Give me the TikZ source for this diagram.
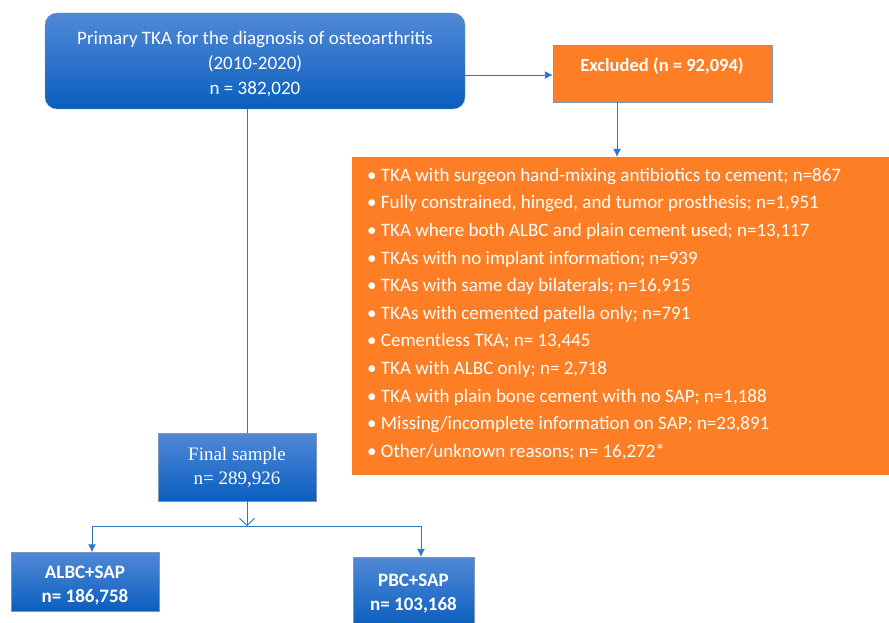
\documentclass[tikz,border=0pt]{standalone}
\usepackage{fontspec}
\setmainfont{Carlito}
\newfontfamily\serifbox{Liberation Serif}
\usetikzlibrary{arrows.meta}
\definecolor{boxtop}{HTML}{5089D6}
\definecolor{boxbot}{HTML}{0A5EBF}
\definecolor{linkblue}{HTML}{2C74CC}
\definecolor{exclorange}{HTML}{FD7E24}
\definecolor{edgegray}{HTML}{7F98B8}
\begin{document}
\begin{tikzpicture}[
      x=1pt, y=-1pt,
      every node/.style={inner sep=0pt, text=white},
      bluebox/.style={draw=edgegray, top color=boxtop, bottom color=boxbot, align=center},
      orangebox/.style={draw=edgegray, fill=exclorange},
      conn/.style={draw=linkblue, line width=0.9pt, -{Latex[length=8pt, width=8pt]}},
      plain/.style={draw=linkblue, line width=0.9pt}
    ]
      \useasboundingbox (0,0) rectangle (889,623);
      % boxes
      \node[bluebox, rounded corners=12pt, minimum width=420pt, minimum height=96pt,
            font=\fontsize{19}{25}\selectfont] (prim) at (255,61) {};
      \node[align=center, font=\fontsize{19}{25}\selectfont] (primText) at (255,64)
            {Primary TKA for the diagnosis of osteoarthritis\\(2010-2020)\\n = 382,020};
      \node[orangebox, minimum width=219pt, minimum height=57pt] (excl) at (662.5,73.5) {};
      \node[font=\bfseries\fontsize{18.5}{22}\selectfont] (exclText) at (662,66) {Excluded (n = 92,094)};
      \node[fill=exclorange, minimum width=537pt, minimum height=318pt] (reasons) at (620.5,316) {};
      \node[anchor=north west, align=left, font=\fontsize{19}{27.6}\selectfont] (reasonList) at (367,168)
            {\textbullet\ TKA with surgeon hand-mixing antibiotics to cement; n=867\\
             \textbullet\ Fully constrained, hinged, and tumor prosthesis; n=1,951\\
             \textbullet\ TKA where both ALBC and plain cement used; n=13,117\\
             \textbullet\ TKAs with no implant information; n=939\\
             \textbullet\ TKAs with same day bilaterals; n=16,915\\
             \textbullet\ TKAs with cemented patella only; n=791\\
             \textbullet\ Cementless TKA; n= 13,445\\
             \textbullet\ TKA with ALBC only; n= 2,718\\
             \textbullet\ TKA with plain bone cement with no SAP; n=1,188\\
             \textbullet\ Missing/incomplete information on SAP; n=23,891\\
             \textbullet\ Other/unknown reasons; n= 16,272*};
      \node[bluebox, minimum width=158pt, minimum height=68pt,
            font=\serifbox\fontsize{19}{24}\selectfont] (final) at (237,467) {Final sample\\n= 289,926};
      \node[bluebox, minimum width=148pt, minimum height=59pt,
            font=\bfseries\fontsize{19}{24}\selectfont] (albc) at (85,582) {};
      \node[align=center, font=\bfseries\fontsize{19}{24}\selectfont] (albcText) at (85,586) {ALBC+SAP\\n= 186,758};
      \node[bluebox, minimum width=121pt, minimum height=70pt,
            font=\bfseries\fontsize{19}{24}\selectfont] (pbc) at (413.5,592) {};
      \node[align=center, font=\bfseries\fontsize{19}{24}\selectfont] (pbcText) at (413.5,594) {PBC+SAP\\n= 103,168};
      \coordinate (split) at (247,526);
      % connectors
      \draw[conn] (prim.east |- 0,75) -- (excl.west |- 0,75);
      \draw[conn] ([xshift=-45.5pt]excl.south) -- ([xshift=-45.5pt]excl.south |- reasons.north);
      \draw[plain] (split |- prim.south) -- (split |- final.north);
      \draw[draw=linkblue, line width=0.9pt, -{Straight Barb[length=7pt, width=15pt]}] (split |- final.south) -- (split);
      \draw[conn] (split) -| ([xshift=7pt]albc.north);
      \draw[conn] (split) -| ([xshift=7.5pt]pbc.north);
\end{tikzpicture}
\end{document}
